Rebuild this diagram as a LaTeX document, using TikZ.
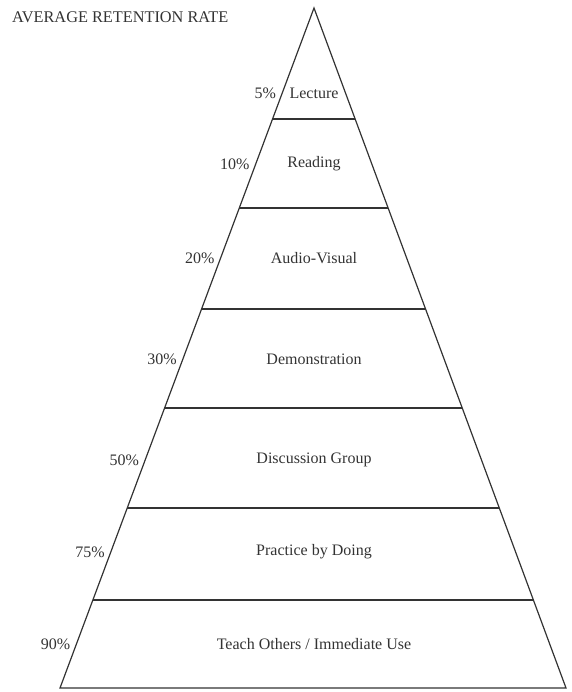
\documentclass[tikz,border=0pt]{standalone}
\usepackage{fontspec}
\setmainfont{Liberation Serif}
\usetikzlibrary{calc}
\definecolor{ink}{HTML}{333333}
\tikzset{
  edge/.style={draw=ink, line width=1.2pt},
  band/.style={text=ink, font=\fontsize{16}{19}\selectfont, inner sep=0pt},
  pct/.style={text=ink, font=\fontsize{16}{19}\selectfont, anchor=east, inner sep=0pt, xshift=-6pt}
}
\begin{document}
\begin{tikzpicture}[x=1pt,y=-1pt]
\useasboundingbox (0,0) rectangle (571,692);
\coordinate (apex) at (314,8);
\coordinate (bl) at (60,688);
\coordinate (br) at (566,688);
\draw[edge] (bl) -- (apex) -- (br) -- cycle;
% band dividers
\foreach \y [count=\i] in {119,208,309,408,508,600}{
  \coordinate (L\i) at ($(apex)!{(\y-8)/680}!(bl)$);
  \coordinate (R\i) at ($(apex)!{(\y-8)/680}!(br)$);
  \draw[edge] (L\i) -- (R\i);
}
\node[text=ink, font=\fontsize{16.3}{19}\selectfont, anchor=west, inner sep=0pt] (title) at (12,17) {AVERAGE RETENTION RATE};
% band labels and percentages
\foreach \y/\p/\t [count=\i] in {93/5\%/Lecture,164/10\%/Reading,258/20\%/Audio-Visual,359/30\%/Demonstration,460/50\%/Discussion Group,552/75\%/Practice by Doing,644/90\%/{Teach Others / Immediate Use}}{
  \coordinate (e\i) at ($(apex)!{(\y-8)/680}!(bl)$);
  \node[pct] (p\i) at (e\i) {\p};
  \node[band] (b\i) at (314,\y) {\t};
}
\end{tikzpicture}
\end{document}
